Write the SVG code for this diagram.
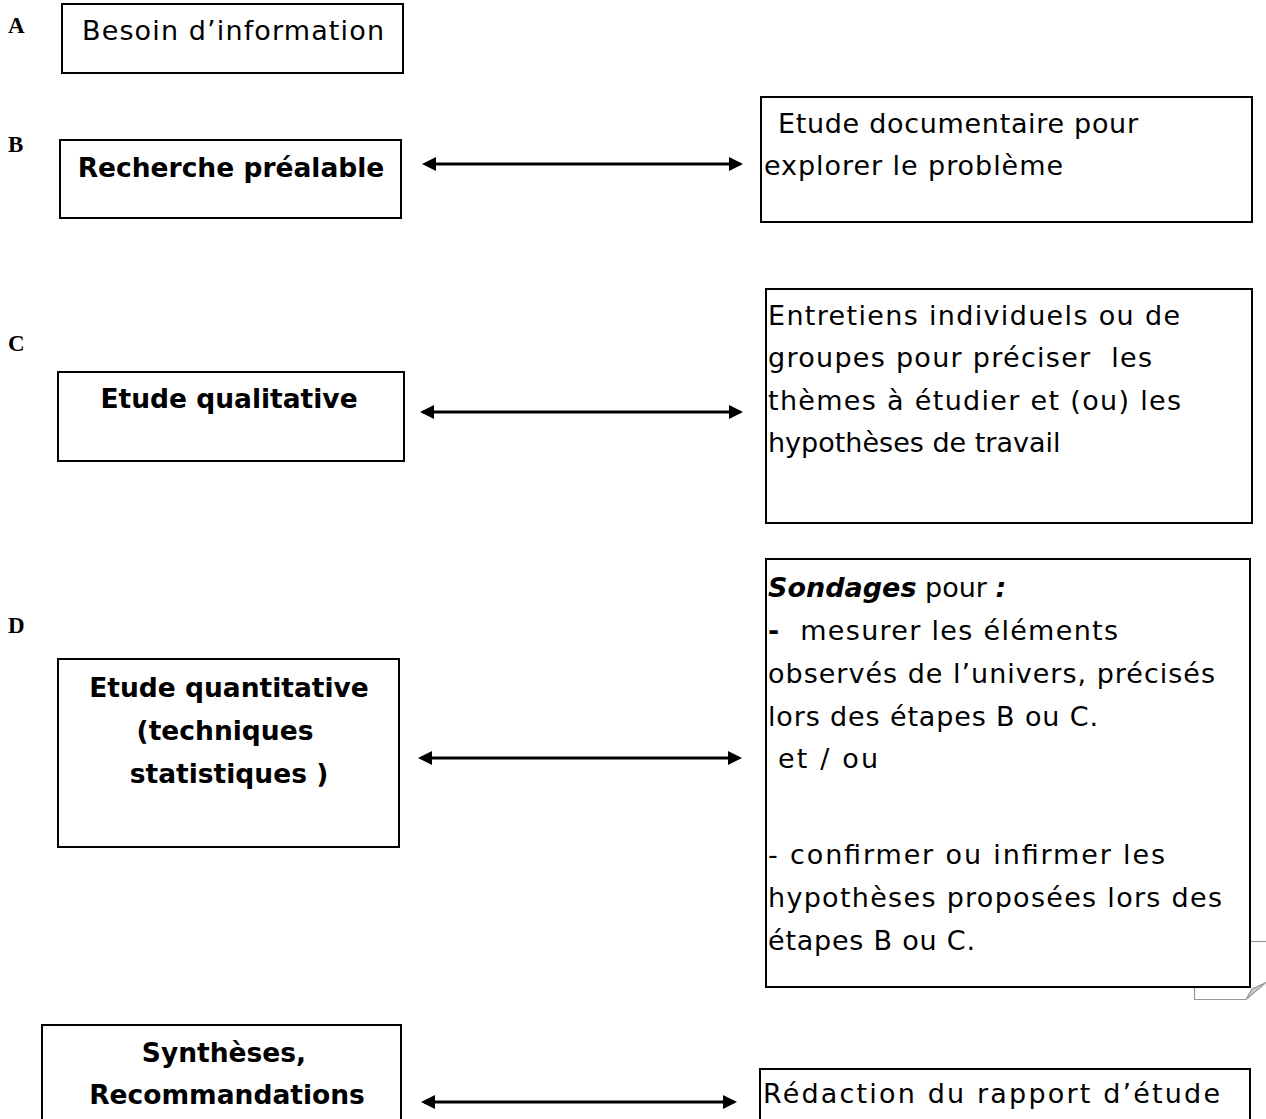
<svg xmlns="http://www.w3.org/2000/svg" width="1266" height="1119" viewBox="0 0 1266 1119">
<style>
.box{fill:#fff;stroke:#000;stroke-width:2}
.t{font-family:"DejaVu Sans","Noto Sans",sans-serif;font-size:27px;fill:#000}
.b{font-weight:bold;font-size:26.5px}
.c{text-anchor:middle}
.lbl{font-family:"Liberation Serif","Times New Roman",serif;font-weight:bold;font-size:23px;fill:#000}
.arr{stroke:#000;stroke-width:3;fill:none;marker-start:url(#ah);marker-end:url(#ah)}
</style>
<defs>
<marker id="ah" markerUnits="userSpaceOnUse" viewBox="0 0 14 14" markerWidth="14" markerHeight="14" refX="11" refY="7" orient="auto-start-reverse">
<path d="M0,0 L14,7 L0,14 z" fill="#000"/>
</marker>
</defs>
<rect width="1266" height="1119" fill="#fff"/>

<!-- page-curl artifact behind box D right -->
<g id="artifact" fill="none" stroke="#999" stroke-width="1.2">
<line x1="1250" y1="941.5" x2="1266" y2="941.5"/>
<path d="M1194.5,986 V999.5 H1246"/>
<path d="M1246,999.5 L1252,989 L1266,982.5 Z" fill="#ccc"/>
</g>

<text class="lbl" x="8" y="33">A</text>
<text class="lbl" x="8" y="152">B</text>
<text class="lbl" x="8" y="351">C</text>
<text class="lbl" x="8" y="633">D</text>

<g id="nodeA">
<rect class="box" x="62" y="4" width="341" height="69"/>
<text class="t" x="82" y="40" textLength="302">Besoin d’information</text>
</g>

<g id="nodeB">
<rect class="box" x="60" y="140" width="341" height="78"/>
<text class="t b c" x="231" y="177">Recherche préalable</text>
</g>

<g id="nodeB2">
<rect class="box" x="761" y="97" width="491" height="125"/>
<text class="t" x="778" y="133" textLength="360">Etude documentaire pour</text>
<text class="t" x="764" y="175" textLength="299">explorer le problème</text>
</g>

<g id="nodeC">
<rect class="box" x="58" y="372" width="346" height="89"/>
<text class="t b c" x="229" y="408">Etude qualitative</text>
</g>

<g id="nodeC2">
<rect class="box" x="766" y="289" width="486" height="234"/>
<text class="t" x="768" y="325" textLength="412">Entretiens individuels ou de</text>
<text class="t" x="768" y="367" textLength="384" xml:space="preserve">groupes pour préciser  les</text>
<text class="t" x="768" y="410" textLength="413">thèmes à étudier et (ou) les</text>
<text class="t" x="768" y="452">hypothèses de travail</text>
</g>

<g id="nodeD">
<rect class="box" x="58" y="659" width="341" height="188"/>
<text class="t b c" x="229" y="697">Etude quantitative</text>
<text class="t b c" x="225" y="740">(techniques</text>
<text class="t b c" x="229" y="783">statistiques )</text>
</g>

<g id="nodeD2">
<rect class="box" x="766" y="559" width="484" height="428"/>
<text class="t" x="768" y="597"><tspan font-weight="bold" font-style="italic">Sondages</tspan> pour <tspan font-weight="bold" font-style="italic">:</tspan></text>
<text class="t" x="768" y="640" xml:space="preserve" textLength="350"><tspan font-weight="bold">-</tspan>  mesurer les éléments</text>
<text class="t" x="768" y="683" textLength="447">observés de l’univers, précisés</text>
<text class="t" x="768" y="726" textLength="330">lors des étapes B ou C.</text>
<text class="t" x="778" y="768" textLength="100">et / ou</text>
<text class="t" x="768" y="864" textLength="397">- confirmer ou infirmer les</text>
<text class="t" x="768" y="907" textLength="454">hypothèses proposées lors des</text>
<text class="t" x="768" y="950" textLength="207">étapes B ou C.</text>
</g>

<g id="nodeE">
<rect class="box" x="42" y="1025" width="359" height="110"/>
<text class="t b c" x="224" y="1062">Synthèses,</text>
<text class="t b c" x="227" y="1104">Recommandations</text>
</g>

<g id="nodeE2">
<rect class="box" x="760" y="1069" width="490" height="70"/>
<text class="t" x="763" y="1103" textLength="457">Rédaction du rapport d’étude</text>
</g>

<g id="connectors">
<line class="arr" x1="425" y1="164" x2="740" y2="164"/>
<line class="arr" x1="423" y1="412" x2="740" y2="412"/>
<line class="arr" x1="421" y1="758" x2="739" y2="758"/>
<line class="arr" x1="424" y1="1102" x2="734" y2="1102"/>
</g>
</svg>
